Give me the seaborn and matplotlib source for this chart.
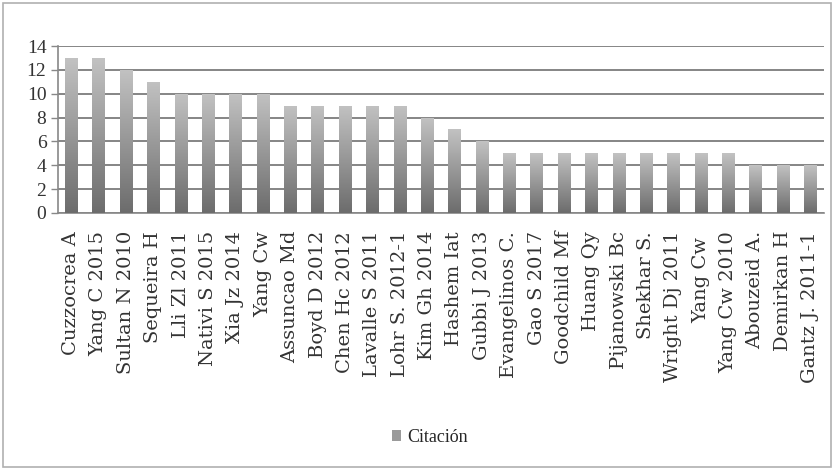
import matplotlib
matplotlib.use("Agg")
import matplotlib.pyplot as plt
import seaborn as sns
import numpy as np
import pandas as pd
from matplotlib.colors import LinearSegmentedColormap
from matplotlib.patches import Rectangle

authors = ["Cuzzocrea A", "Yang C 2015", "Sultan N 2010", "Sequeira H", "Lli Zl 2011",
           "Nativi S 2015", "Xia Jz 2014", "Yang Cw", "Assuncao Md", "Boyd D 2012",
           "Chen Hc 2012", "Lavalle S 2011", "Lohr S. 2012-1", "Kim Gh 2014", "Hashem Iat",
           "Gubbi J 2013", "Evangelinos C.", "Gao S 2017", "Goodchild Mf", "Huang Qy",
           "Pijanowski Bc", "Shekhar S.", "Wright Dj 2011", "Yang Cw ", "Yang Cw 2010",
           "Abouzeid A.", "Demirkan H", "Gantz J. 2011-1"]
citations = [13, 13, 12, 11, 10, 10, 10, 10, 9, 9, 9, 9, 9, 8, 7, 6,
             5, 5, 5, 5, 5, 5, 5, 5, 5, 4, 4, 4]
series_name = "Citación"
yticks = [0, 2, 4, 6, 8, 10, 12, 14]

df = pd.DataFrame({"Autor": authors, "Citas": citations})

sns.set_style("white")
plt.rcParams["font.family"] = ["Liberation Serif", "DejaVu Serif"]

fig = plt.figure(figsize=(8.34, 4.70), dpi=100)
ax = fig.add_axes([0.069, 0.547, 0.919, 0.355])

sns.barplot(data=df, x="Autor", y="Citas", color="#8a8a8a", width=0.45, ax=ax,
            saturation=1, zorder=3)

# gradient fill on bars
cmap = LinearSegmentedColormap.from_list("g", ["#6c6c6c", "#c2c2c2"])
grad = np.linspace(0, 1, 256).reshape(-1, 1)
for p in list(ax.patches):
    x0, y0 = p.get_x(), p.get_y()
    w, h = p.get_width(), p.get_height()
    im = ax.imshow(grad, cmap=cmap, origin="lower", aspect="auto",
                   extent=[x0, x0 + w, y0, y0 + h], zorder=4)
    im.set_clip_path(p)
    p.set_facecolor("none")
    p.set_edgecolor("none")

ax.set_xlim(-0.5, len(authors) - 0.5)
ax.set_ylim(0, 14)
ax.set_yticks(yticks)
ax.set_yticklabels([str(t) for t in yticks], fontsize=14)
ax.yaxis.grid(True, color="#858585", linewidth=1.4, zorder=0)
ax.set_axisbelow(True)
ax.set_xlabel("")
ax.set_ylabel("")
ax.set_xticks(range(len(authors)))
ax.set_xticklabels(authors, rotation=90, fontsize=14, color="#333333",
                   family=["DejaVu Serif"])
ax.tick_params(axis="x", which="major", length=0, pad=13)
ax.set_xticks(np.arange(-0.5, len(authors), 1.0), minor=True)
ax.tick_params(axis="x", which="minor", length=5, color="#888888", width=1)
ax.tick_params(axis="y", length=5, color="#888888", width=1, left=True, pad=3,
               labelcolor="#333333")
for s in ["top", "right"]:
    ax.spines[s].set_visible(False)
ax.spines["left"].set_color("#888888")
ax.spines["bottom"].set_color("#888888")
ax.spines["left"].set_linewidth(1.2)
ax.spines["bottom"].set_linewidth(1.2)

# legend
handle = Rectangle((0, 0), 1, 1, facecolor="#9a9a9a", edgecolor="none")
fig.legend([handle], [series_name], loc="center", bbox_to_anchor=(0.515, 0.07),
           frameon=False, handlelength=0.55, handleheight=0.55,
           handletextpad=0.3,
           prop={"family": ["Liberation Serif", "DejaVu Serif"], "size": 13})

# outer frame
fig.patches.append(Rectangle((0.004, 0.006), 0.992, 0.988, transform=fig.transFigure,
                             fill=False, edgecolor="#b0b0b0", linewidth=1.2))

fig.savefig("out.png", dpi=100)
